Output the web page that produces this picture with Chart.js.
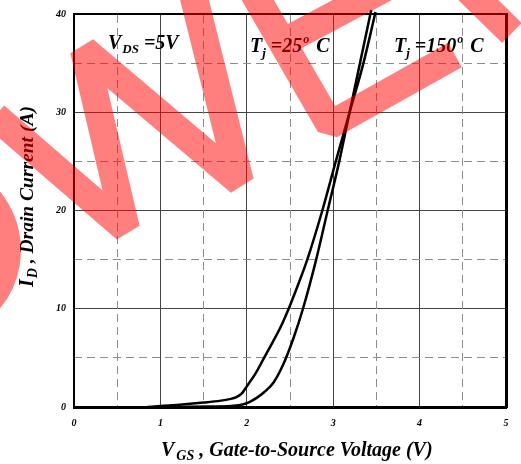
<!DOCTYPE html>
<html>
<head>
<meta charset="utf-8">
<title>Transfer Characteristics</title>
<script src="https://cdn.jsdelivr.net/npm/chart.js@4.4.0/dist/chart.umd.min.js"></script>
<style>
  html, body { margin: 0; padding: 0; background: #fff; }
  #wrap { width: 521px; height: 464px; }
</style>
</head>
<body>
<div id="wrap"><canvas id="transfer" width="521" height="464"></canvas></div>
<script>
// ---------- data ----------
const xTicks = [0, 1, 2, 3, 4, 5];
const yTicks = [0, 10, 20, 30, 40];
const xHalfTicks = [0.5, 1.5, 2.5, 3.5, 4.5];
const yHalfTicks = [5, 15, 25, 35];

// Tj = 25 C
const vgs25 = [1.2, 1.6, 1.85, 1.95, 2.03, 2.11, 2.2, 2.31, 2.42, 2.54, 2.65, 2.8, 2.936, 3.07, 3.19, 3.31, 3.44];
const id25  = [0, 0.05, 0.12, 0.25, 0.5, 0.9, 1.5, 2.5, 4.3, 7.0, 10, 14.9, 20, 25, 30, 35, 40.4];

// Tj = 150 C
const vgs150 = [0.85, 1.0, 1.25, 1.5, 1.7, 1.8, 1.88, 1.94, 2.0, 2.1, 2.2, 2.3, 2.4, 2.48, 2.6, 2.7, 2.874, 3.03, 3.19, 3.35, 3.49];
const id150  = [0, 0.1, 0.25, 0.45, 0.65, 0.8, 1.0, 1.35, 2.1, 3.4, 5.0, 6.6, 8.3, 9.9, 12.6, 15, 20, 25, 30, 35, 40.2];

// ---------- helpers ----------
const serif = '"Liberation Serif", "Times New Roman", serif';
const tickFont = { family: serif, size: 10, weight: 'bold', style: 'italic' };

const toPoints = (xs, ys) => xs.map((v, i) => ({ x: v, y: ys[i] }));
const fixTicks = values => axis => { axis.ticks = values.map(v => ({ value: v })); };

// parts: [text, size, dy, gapBefore]
function drawRich(ctx, x, y, parts) {
  let cx = x;
  parts.forEach(([t, size, dy = 0, gap = 0]) => {
    cx += gap;
    ctx.font = `italic bold ${size}px ${serif}`;
    ctx.fillText(t, cx, y + dy);
    cx += ctx.measureText(t).width;
  });
}

// red diagonal stamp over the sheet
function drawStamp(ctx) {
  ctx.save();
  ctx.strokeStyle = 'rgba(255, 0, 0, 0.5)';
  ctx.lineJoin = 'bevel';
  ctx.lineCap = 'butt';
  ctx.lineWidth = 28;
  ctx.beginPath();
  ctx.arc(-71, 250, 78, -1.4, 1.4);
  ctx.moveTo(-5, 116); ctx.lineTo(126, 229); ctx.lineTo(84, 50); ctx.lineTo(240, 182); ctx.lineTo(192, -10);
  ctx.moveTo(252, -10); ctx.lineTo(330, 125); ctx.lineTo(455, 55);
  ctx.moveTo(278, 45); ctx.lineTo(385, -12);
  ctx.moveTo(466, -12); ctx.lineTo(512, 33);
  ctx.stroke();
  ctx.restore();
}

const textPlugin = {
  id: 'sheetText',
  afterDraw(chart) {
    const ctx = chart.ctx;
    ctx.save();
    ctx.fillStyle = '#000';
    ctx.textBaseline = 'alphabetic';
    ctx.textAlign = 'left';

    drawRich(ctx, 108, 49, [['V', 20], ['DS', 13, 4, 1], ['=5V', 20, 0, 5]]);
    drawRich(ctx, 250, 52, [['T', 20], ['j', 13, 5], ['=25', 20, 0, 5], ['o', 12, -9, 1], ['C', 20, 0, 7]]);
    drawRich(ctx, 394, 52, [['T', 20], ['j', 13, 5], ['=150', 20, 0, 5], ['o', 12, -9, 1], ['C', 20, 0, 7]]);

    // axis titles
    drawRich(ctx, 161, 456, [['V', 20], ['GS', 14, 4, 2], [' , Gate-to-Source Voltage (V)', 20]]);
    ctx.translate(33, 287);
    ctx.rotate(-Math.PI / 2);
    drawRich(ctx, 0, 0, [['I', 20], ['D', 14, 4, 1], [' , Drain Current (A)', 19.5]]);
    ctx.restore();

    drawStamp(ctx);
  }
};

const lineStyle = {
  showLine: true,
  borderColor: '#000',
  borderWidth: 2.5,
  pointRadius: 0,
  cubicInterpolationMode: 'monotone',
  clip: false
};

new Chart(document.getElementById('transfer'), {
  type: 'scatter',
  data: {
    datasets: [
      { label: 'Tj=25°C', data: toPoints(vgs25, id25), ...lineStyle },
      { label: 'Tj=150°C', data: toPoints(vgs150, id150), ...lineStyle }
    ]
  },
  options: {
    responsive: false,
    animation: false,
    layout: { padding: { top: 11, right: 15, bottom: 0, left: 0 } },
    plugins: { legend: { display: false }, tooltip: { enabled: false } },
    scales: {
      x: {
        type: 'linear', position: 'bottom', min: 0, max: 5,
        afterBuildTicks: fixTicks(xTicks),
        afterFit: s => { s.height = 57; },
        grid: { color: '#444', lineWidth: 1, drawTicks: false },
        border: { color: '#000', width: 3 },
        ticks: { color: '#000', font: tickFont, padding: 10, maxRotation: 0 }
      },
      y: {
        type: 'linear', position: 'left', min: 0, max: 40,
        afterBuildTicks: fixTicks(yTicks),
        afterFit: s => { s.width = 74; },
        grid: { color: '#444', lineWidth: 1, drawTicks: false },
        border: { color: '#000', width: 2 },
        ticks: { color: '#000', font: tickFont, padding: 8 }
      },
      x2: {
        type: 'linear', position: 'top', min: 0, max: 5,
        afterBuildTicks: fixTicks(xHalfTicks),
        afterFit: s => { s.height = 0; },
        grid: { color: '#8c8c8c', lineWidth: 1, drawTicks: false },
        border: { color: '#000', width: 2, dash: [8, 5] },
        ticks: { display: false }
      },
      y2: {
        type: 'linear', position: 'right', min: 0, max: 40,
        afterBuildTicks: fixTicks(yHalfTicks),
        afterFit: s => { s.width = 0; },
        grid: { color: '#8c8c8c', lineWidth: 1, drawTicks: false },
        border: { color: '#000', width: 3, dash: [8, 5] },
        ticks: { display: false }
      }
    }
  },
  plugins: [textPlugin]
});
</script>
</body>
</html>
